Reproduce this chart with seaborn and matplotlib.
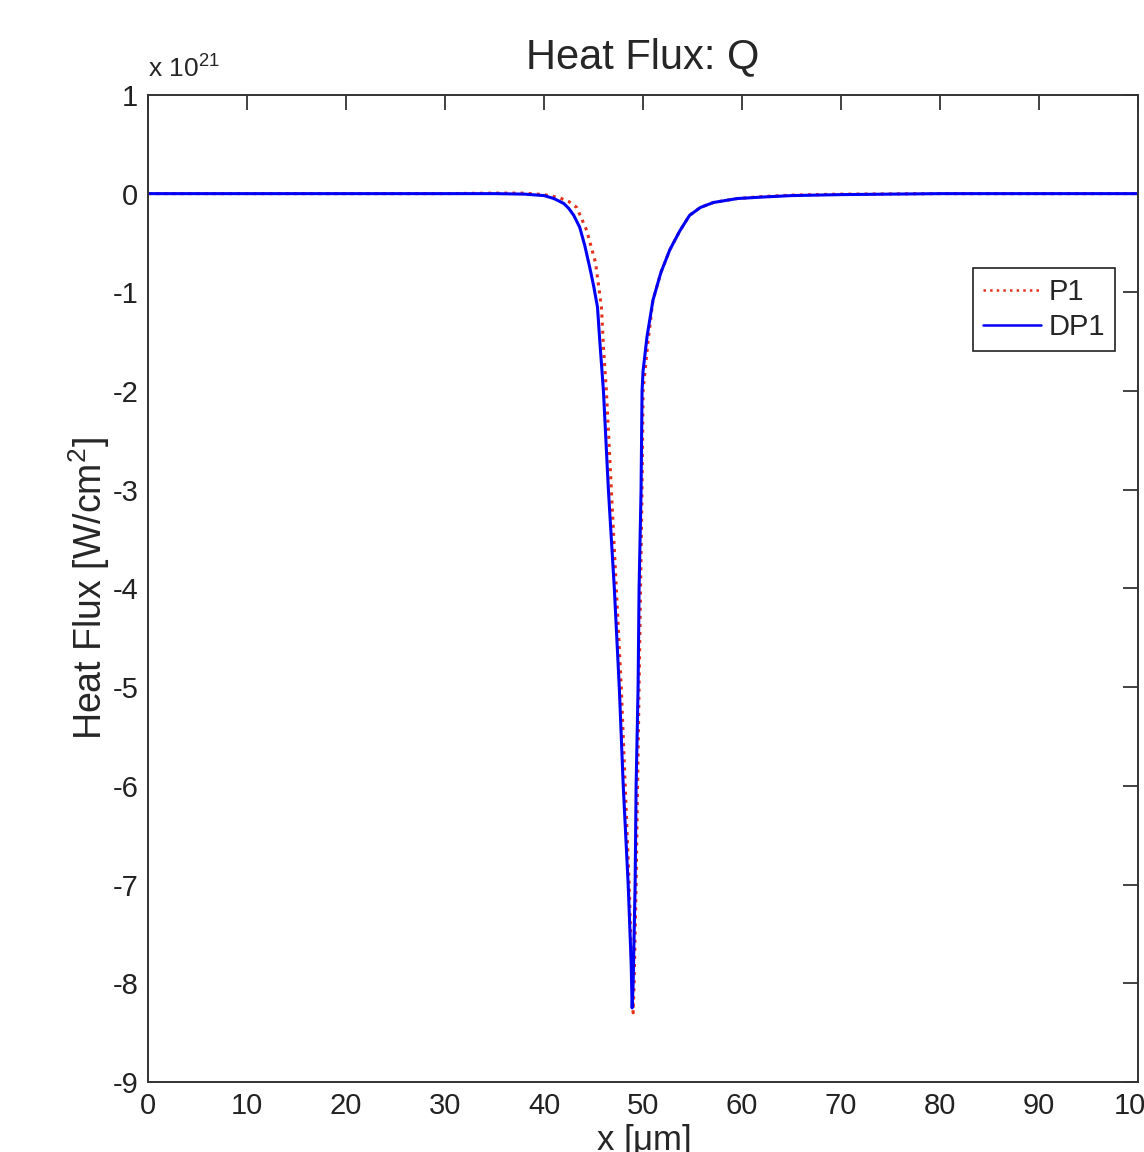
import numpy as np
import pandas as pd
import matplotlib
matplotlib.use('Agg')
import matplotlib.pyplot as plt
import seaborn as sns

sns.set_style('white')
plt.rcParams['font.family'] = ['Liberation Sans', 'DejaVu Sans']
plt.rcParams['mathtext.fontset'] = 'custom'
plt.rcParams['mathtext.rm'] = 'Liberation Sans'
plt.rcParams['mathtext.it'] = 'Liberation Sans'
plt.rcParams['axes.unicode_minus'] = False

# 데이터 (단위: 1e21 W/cm^2)
x_dp1 = [0, 10, 20, 30, 35, 38, 40, 41, 42, 42.5, 43, 43.6, 44.1, 44.6, 45.0, 45.4,
         45.6, 46.0, 46.5, 47.1, 47.6, 48.0, 48.5, 48.8, 48.9, 49.0, 49.2, 49.3, 49.5,
         49.6, 49.8, 49.9, 50.0, 50.4, 51.0, 51.8, 52.7, 53.7, 54.7, 55.8, 57.1, 59.5,
         62, 65, 70, 80, 90, 100]
q_dp1 = [0, 0, 0, 0, 0, -0.005, -0.02, -0.05, -0.10, -0.15, -0.22, -0.34, -0.52, -0.74,
         -0.93, -1.15, -1.45, -2.0, -3.0, -4.0, -5.0, -6.0, -7.0, -7.8, -8.25, -8.0, -7.0,
         -6.0, -5.0, -4.0, -3.0, -2.0, -1.8, -1.45, -1.08, -0.80, -0.57, -0.38, -0.22,
         -0.14, -0.09, -0.05, -0.035, -0.02, -0.01, 0, 0, 0]

x_p1 = [0, 10, 20, 30, 35, 38, 40, 41.5, 42.5, 43.3, 44.3, 45.2, 45.8, 46.0, 46.3, 46.8,
        47.3, 47.8, 48.2, 48.6, 48.9, 49.0, 49.1, 49.3, 49.6, 49.9, 50.0, 50.5, 51.0,
        51.8, 52.7, 53.7, 54.7, 55.8, 57.1, 59.5, 62, 65, 70, 80, 90, 100]
q_p1 = [0, 0, 0, 0, 0.005, 0.005, -0.01, -0.04, -0.08, -0.14, -0.37, -0.70, -1.15, -1.55,
        -2.0, -3.0, -4.0, -5.0, -6.0, -7.0, -8.0, -8.3, -8.0, -7.0, -5.0, -3.0, -2.0,
        -1.5, -1.08, -0.80, -0.57, -0.38, -0.22, -0.14, -0.09, -0.05, -0.03, -0.015,
        -0.005, 0, 0, 0]

df_p1 = pd.DataFrame({'x': x_p1, 'q': q_p1})
df_dp1 = pd.DataFrame({'x': x_dp1, 'q': q_dp1})

fig = plt.figure(figsize=(11.44, 11.52), dpi=100)
ax = fig.add_axes([0.1294, 0.0608, 0.8654, 0.8568])

sns.lineplot(data=df_p1, x='x', y='q', ax=ax, color='#e5301c', linestyle=':',
             linewidth=2.2, label='P1', sort=False)
sns.lineplot(data=df_dp1, x='x', y='q', ax=ax, color='#0000f5', linestyle='-',
             linewidth=2.2, label='DP1', sort=False)

ax.set_xlim(0, 100)
ax.set_ylim(-9, 1)
ax.set_xticks(np.arange(0, 101, 10))
ax.set_yticks(np.arange(-9, 2, 1))
ax.tick_params(direction='in', length=11, width=1.2, top=True, right=True,
               labelsize=21, pad=7, colors='#222222')
for s in ax.spines.values():
    s.set_color('#333333')
    s.set_linewidth(1.4)

ax.set_title('Heat Flux: Q', fontsize=30, pad=19)
ax.set_xlabel('x [$\\mu$m]', fontsize=25, labelpad=2)
ax.set_ylabel('Heat Flux [W/cm$^2$]', fontsize=27, labelpad=0)
ax.text(0.0, 1.012, 'x 10$^{21}$', transform=ax.transAxes, fontsize=19,
        ha='left', va='bottom')

leg = ax.legend(loc='upper right', bbox_to_anchor=(0.977, 0.825), fontsize=21,
                frameon=True, fancybox=False, framealpha=1, edgecolor='#222222',
                handlelength=2.0, handletextpad=0.25, borderpad=0.35, labelspacing=0.25,
                borderaxespad=0)
leg.get_frame().set_linewidth(1.2)
for h in leg.get_lines():
    h.set_linewidth(1.8)

plt.savefig('out.png', dpi=100)
